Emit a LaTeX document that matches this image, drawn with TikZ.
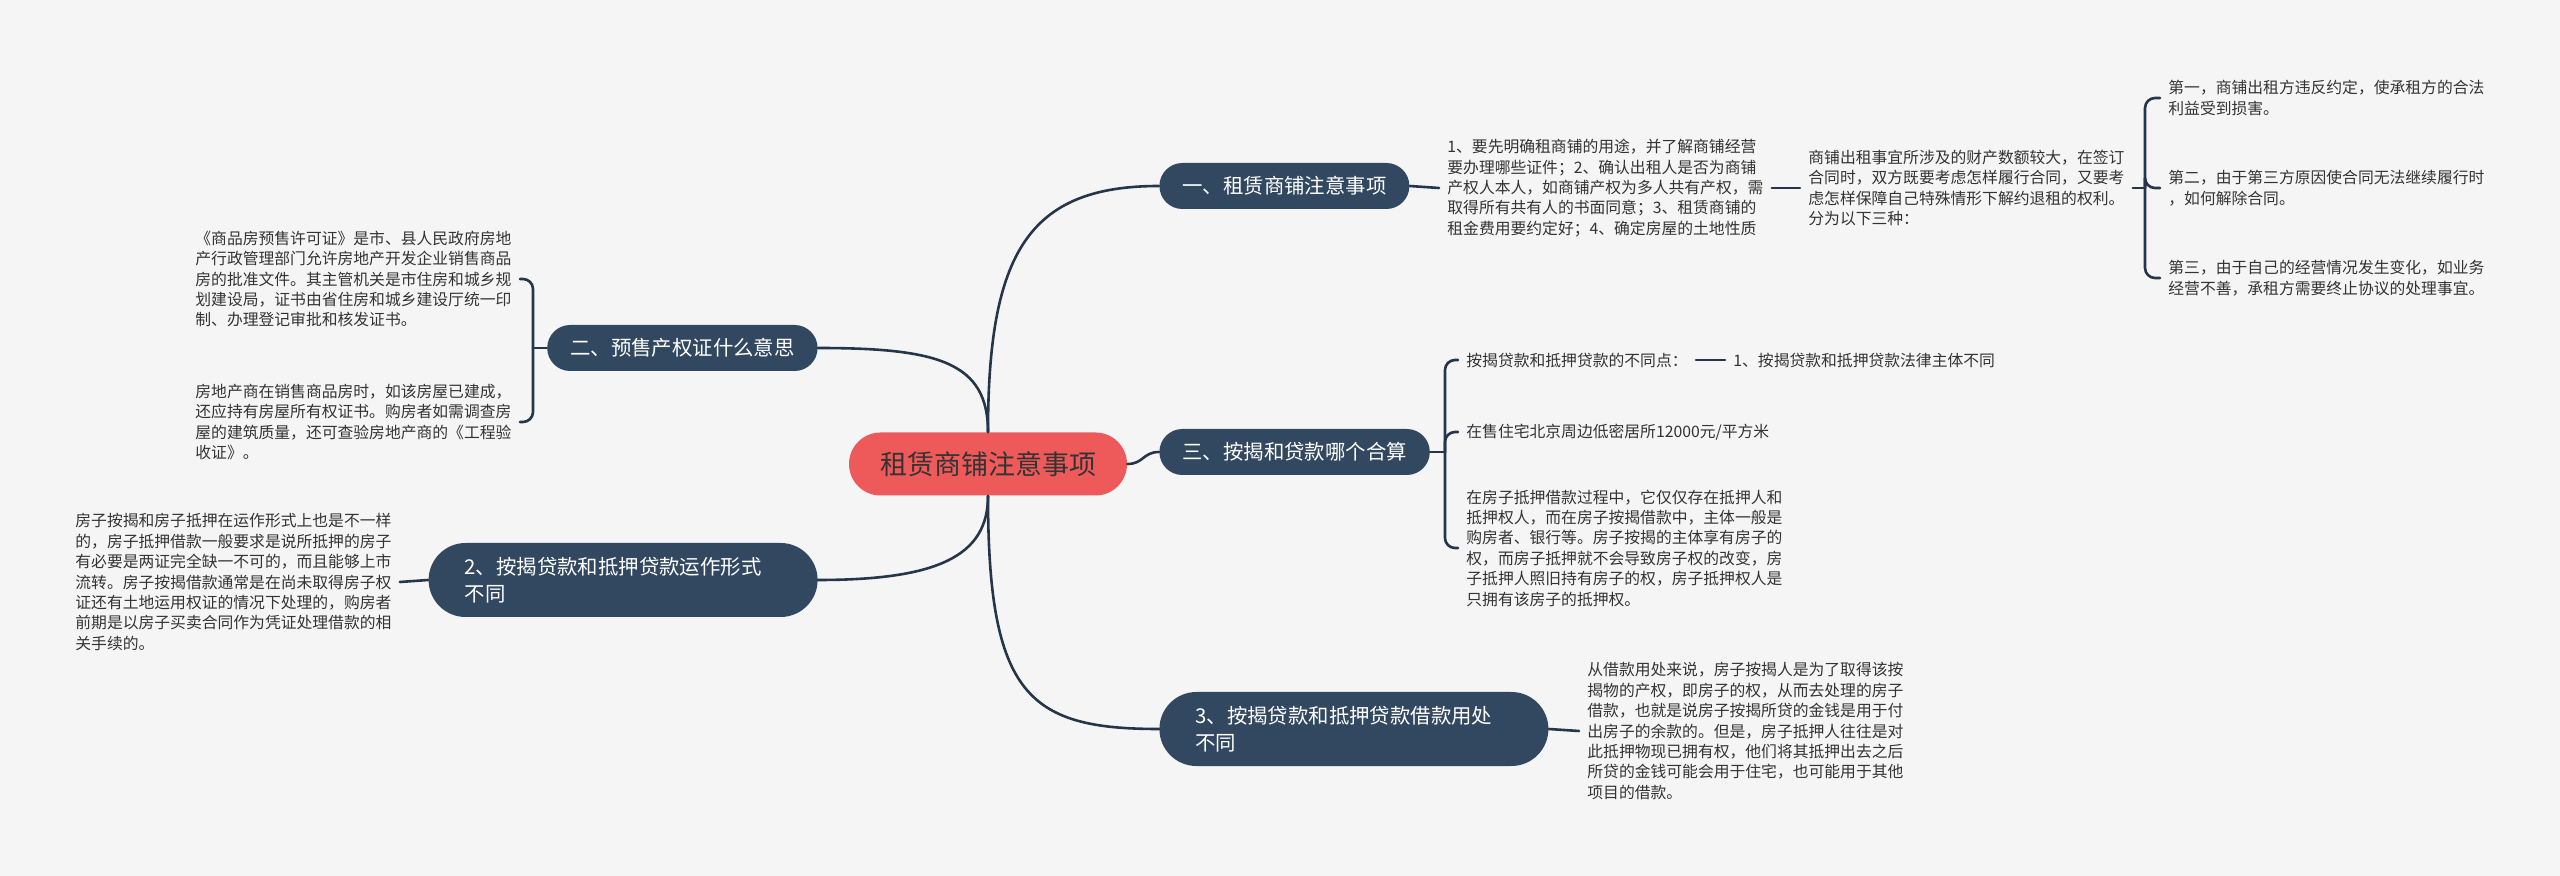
\documentclass[tikz,border=0pt]{standalone}
\usepackage{fontspec}
\setmainfont{Noto Sans CJK SC}
\definecolor{bgcol}{RGB}{245,245,245}
\definecolor{rootred}{RGB}{238,90,90}
\definecolor{topicblue}{RGB}{50,72,96}
\definecolor{linecol}{RGB}{38,54,74}
\definecolor{leafgray}{RGB}{51,51,51}
\begin{document}
\begin{tikzpicture}[x=0.5pt, y=-0.5pt, line join=round, line cap=round,
  root/.style={fill=rootred, text=leafgray, rounded corners=15.75pt, minimum height=31.5pt, inner xsep=15.5pt, font=\fontsize{13.5}{16}\selectfont},
  topic/.style={fill=topicblue, text=white, rounded corners=11.5pt, minimum height=23pt, inner xsep=11.5pt, font=\fontsize{10.2}{13.5}\selectfont},
  longtopic/.style={topic, rounded corners=18.5pt, minimum height=37pt, inner xsep=18pt, text width=158.5pt, align=left},
  leaf/.style={text=leafgray, align=left, inner xsep=4pt, inner ysep=0pt, font=\fontsize{7.9}{10.2}\selectfont},
  link/.style={draw=linecol, line width=1.3pt},
  brace/.style={link, rounded corners=5pt}]
  \path[use as bounding box, fill=bgcol] (0,0) rectangle (2560,876);

  \node[root] (root) at (988,464) {租赁商铺注意事项};

  \node[topic, anchor=west] (rent) at (1159,186) {一、租赁商铺注意事项};
  \node[topic, anchor=east] (presale) at (818,348) {二、预售产权证什么意思};
  \node[topic, anchor=west] (which) at (1159,452) {三、按揭和贷款哪个合算};
  \node[longtopic, anchor=east] (form) at (818,580) {2、按揭贷款和抵押贷款运作形式\\不同};
  \node[longtopic, anchor=west] (use) at (1159,729) {3、按揭贷款和抵押贷款借款用处\\不同};

  \draw[link] (root.north) .. controls +(0,-180) and +(-130,0) .. (rent.west);
  \draw[link] (root.north) .. controls +(0,-70) and +(120,0) .. (presale.east);
  \draw[link] (root.east) .. controls +(16,0) and +(-16,0) .. (which.west);
  \draw[link] (root.south) .. controls +(0,60) and +(120,0) .. (form.east);
  \draw[link] (root.south) .. controls +(0,200) and +(-130,0) .. (use.west);

  \node[leaf, anchor=west] (rentnote) at (1439,188) {1、要先明确租商铺的用途，并了解商铺经营\\要办理哪些证件；2、确认出租人是否为商铺\\产权人本人，如商铺产权为多人共有产权，需\\取得所有共有人的书面同意；3、租赁商铺的\\租金费用要约定好；4、确定房屋的土地性质};
  \node[leaf, anchor=west] (terms) at (1800,188) {商铺出租事宜所涉及的财产数额较大，在签订\\合同时，双方既要考虑怎样履行合同，又要考\\虑怎样保障自己特殊情形下解约退租的权利。\\分为以下三种：};
  \node[leaf, anchor=west] (caseA) at (2160,98) {第一，商铺出租方违反约定，使承租方的合法\\利益受到损害。};
  \node[leaf, anchor=west] (caseB) at (2160,188) {第二，由于第三方原因使合同无法继续履行时\\，如何解除合同。};
  \node[leaf, anchor=west] (caseC) at (2160,278) {第三，由于自己的经营情况发生变化，如业务\\经营不善，承租方需要终止协议的处理事宜。};
  \draw[link] (rent.east) -- (rentnote.west);
  \draw[link] (rentnote.east) -- (terms.west);
  \coordinate (casesplit) at (2145,188);
  \draw[link] (terms.east) -- (casesplit);
  \foreach \c in {caseA,caseB,caseC}
    \draw[brace] (casesplit) |- (\c.west);

  \node[leaf, anchor=west] (permit) at (187,279) {《商品房预售许可证》是市、县人民政府房地\\产行政管理部门允许房地产开发企业销售商品\\房的批准文件。其主管机关是市住房和城乡规\\划建设局，证书由省住房和城乡建设厅统一印\\制、办理登记审批和核发证书。};
  \node[leaf, anchor=west] (check) at (187,422) {房地产商在销售商品房时，如该房屋已建成，\\还应持有房屋所有权证书。购房者如需调查房\\屋的建筑质量，还可查验房地产商的《工程验\\收证》。};
  \coordinate (permitsplit) at (533,348);
  \draw[link] (presale.west) -- (permitsplit);
  \foreach \c in {permit,check}
    \draw[brace] (permitsplit) |- (\c.east);

  \node[leaf, anchor=west] (formnote) at (67,582) {房子按揭和房子抵押在运作形式上也是不一样\\的，房子抵押借款一般要求是说所抵押的房子\\有必要是两证完全缺一不可的，而且能够上市\\流转。房子按揭借款通常是在尚未取得房子权\\证还有土地运用权证的情况下处理的，购房者\\前期是以房子买卖合同作为凭证处理借款的相\\关手续的。};
  \draw[link] (form.west) -- (formnote.east);

  \node[leaf, anchor=west] (diff) at (1458,360) {按揭贷款和抵押贷款的不同点：};
  \node[leaf, anchor=west] (subject) at (1725,360) {1、按揭贷款和抵押贷款法律主体不同};
  \node[leaf, anchor=west] (price) at (1458,432) {在售住宅北京周边低密居所12000元/平方米};
  \node[leaf, anchor=west] (owner) at (1458,548) {在房子抵押借款过程中，它仅仅存在抵押人和\\抵押权人，而在房子按揭借款中，主体一般是\\购房者、银行等。房子按揭的主体享有房子的\\权，而房子抵押就不会导致房子权的改变，房\\子抵押人照旧持有房子的权，房子抵押权人是\\只拥有该房子的抵押权。};
  \coordinate (whichsplit) at (1445,452);
  \draw[link] (which.east) -- (whichsplit);
  \foreach \c in {diff,price,owner}
    \draw[brace] (whichsplit) |- (\c.west);
  \draw[link] (diff.east) -- (subject.west);

  \node[leaf, anchor=west] (usenote) at (1579,731) {从借款用处来说，房子按揭人是为了取得该按\\揭物的产权，即房子的权，从而去处理的房子\\借款，也就是说房子按揭所贷的金钱是用于付\\出房子的余款的。但是，房子抵押人往往是对\\此抵押物现已拥有权，他们将其抵押出去之后\\所贷的金钱可能会用于住宅，也可能用于其他\\项目的借款。};
  \draw[link] (use.east) -- (usenote.west);
\end{tikzpicture}
\end{document}
